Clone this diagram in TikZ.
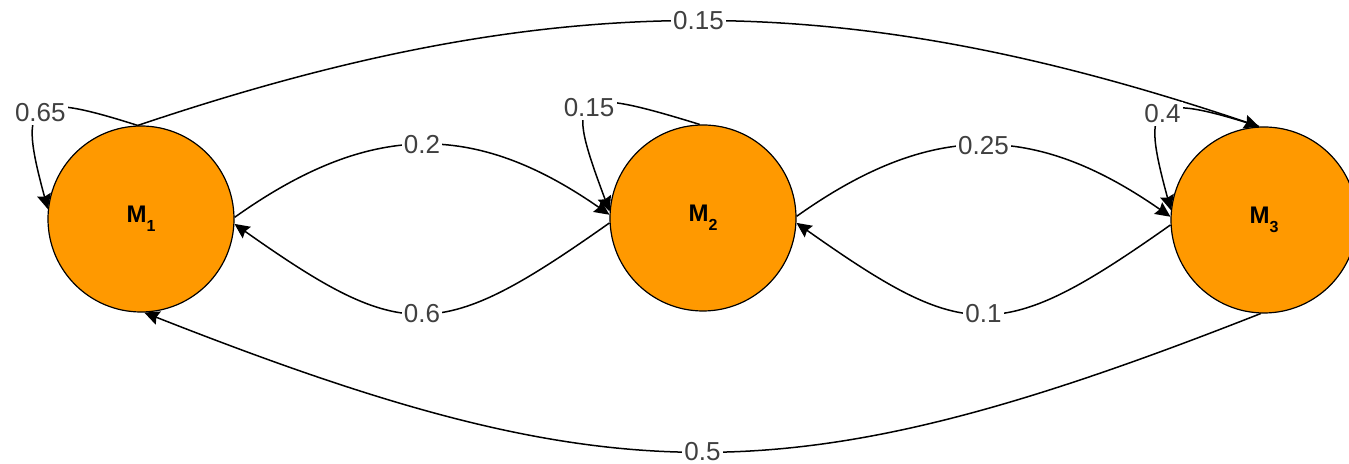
\documentclass[tikz,border=0pt]{standalone}
\usepackage{fontspec}
\setmainfont{Liberation Sans}
\usepackage{xcolor}
\usetikzlibrary{arrows.meta}
\definecolor{stateOrange}{HTML}{FF9900}
\definecolor{labelGray}{HTML}{404040}
\newcommand{\msub}[1]{\raisebox{-4.5pt}{\fontsize{8}{8}\selectfont #1}}

\begin{document}
\begin{tikzpicture}[x=0.5pt, y=0.5pt,
    state/.style={circle, draw=black, line width=0.6pt, fill=stateOrange,
      minimum size=93pt, inner sep=0pt, font=\fontsize{12}{14}\selectfont\bfseries},
    trans/.style={draw=black, line width=0.75pt,
      -{Stealth[length=7.5pt, width=7pt, inset=1pt]}},
    lbl/.style={midway, fill=white, text=labelGray, inner sep=1.2pt,
      font=\fontsize{13}{15}\selectfont}]
  \useasboundingbox (0,0) rectangle (1349,464);
  \clip (0,0) rectangle (1349,464);

  % States
  \node[state] (m1) at (141,245) {M\msub{1}};
  \node[state] (m2) at (703,246) {M\msub{2}};
  \node[state] (m3) at (1264,244) {M\msub{3}};

  % Neighbouring transitions
  \draw[trans] (m1.1) .. controls +(135,96) and +(-135,94) .. node[lbl] {0.2} (m2.178);
  \draw[trans] (m2.183) .. controls +(-170,-120) and +(170,-120) .. node[lbl] {0.6} (m1.-3);
  \draw[trans] (m2.1) .. controls +(135,96) and +(-135,94) .. node[lbl] {0.25} (m3.178);
  \draw[trans] (m3.183) .. controls +(-170,-120) and +(170,-120) .. node[lbl] {0.1} (m2.-3);

  % Long transitions
  \draw[trans] (m1.92) .. controls +(415,140) and +(-415,140) .. node[lbl] {0.15} (m3.93);
  \draw[trans] (m3.268) .. controls +(-470,-185) and +(470,-185) .. node[lbl] {0.5} (m1.272);

  % Self loops
  \draw[trans] (m1.92) .. controls +(-110,35) and +(-30,110) .. node[lbl] {0.65} (m1.174);
  \draw[trans] (m2.92) .. controls +(-130,40) and +(-45,120) .. node[lbl] {0.15} (m2.176);
  \draw[trans] (m3.93) .. controls +(-110,35) and +(-30,110) .. node[lbl] {0.4} (m3.174);
\end{tikzpicture}
\end{document}
